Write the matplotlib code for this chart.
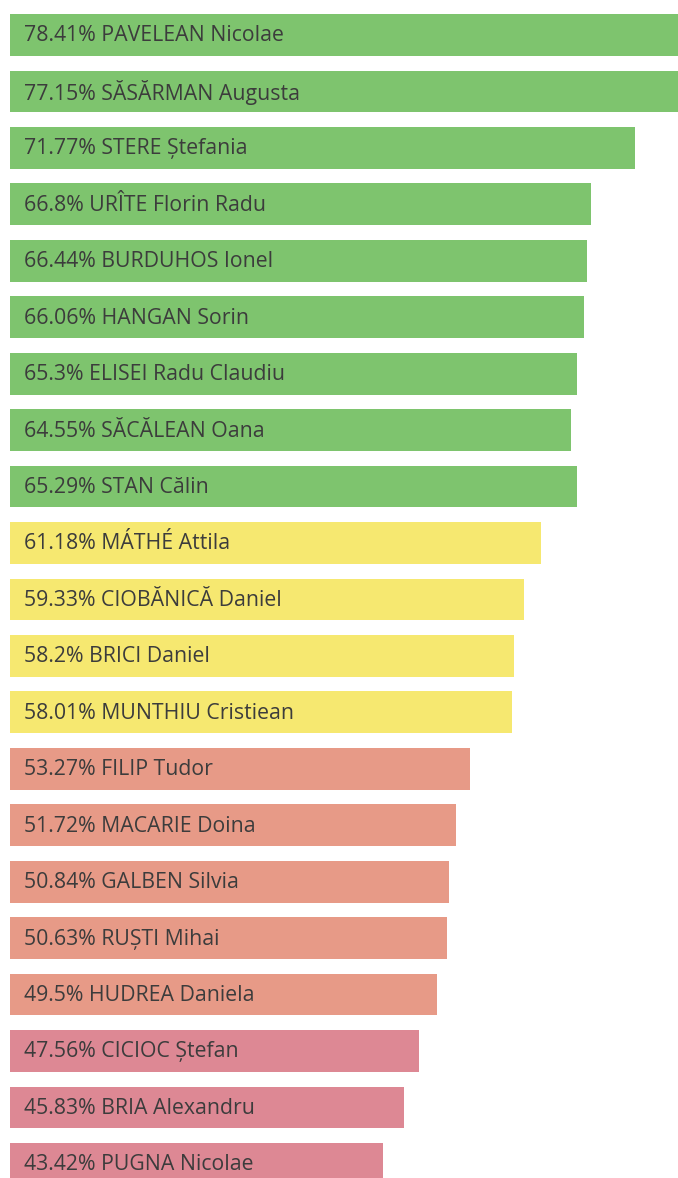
import numpy as np
import matplotlib.pyplot as plt

names = ["PAVELEAN Nicolae", "SĂSĂRMAN Augusta", "STERE Ștefania",
         "URÎTE Florin Radu", "BURDUHOS Ionel", "HANGAN Sorin",
         "ELISEI Radu Claudiu", "SĂCĂLEAN Oana", "STAN Călin",
         "MÁTHÉ Attila", "CIOBĂNICĂ Daniel", "BRICI Daniel",
         "MUNTHIU Cristiean", "FILIP Tudor", "MACARIE Doina",
         "GALBEN Silvia", "RUȘTI Mihai", "HUDREA Daniela",
         "CICIOC Ștefan", "BRIA Alexandru", "PUGNA Nicolae"]
labels = ["78.41", "77.15", "71.77", "66.8", "66.44", "66.06", "65.3",
          "64.55", "65.29", "61.18", "59.33", "58.2", "58.01", "53.27",
          "51.72", "50.84", "50.63", "49.5", "47.56", "45.83", "43.42"]
values = [float(v) for v in labels]


def bar_color(v):
    if v >= 62:
        return "#7ec46e"
    if v >= 55:
        return "#f6e870"
    if v >= 48.5:
        return "#e79a87"
    return "#dd8894"


fig = plt.figure(figsize=(6.78, 11.78), dpi=100)
ax = fig.add_axes([10 / 678, 0, 668 / 678, 1])

y = np.arange(len(values))
ax.barh(y, values, height=0.74, color=[bar_color(v) for v in values], left=0)

# labels sit inside the bar, a fixed offset from its left edge
trans = ax.get_yaxis_transform()
for i, (lab, name) in enumerate(zip(labels, names)):
    ax.annotate(f"{lab}% {name}", xy=(0, i), xycoords=trans, xytext=(14, -1),
                textcoords="offset pixels", va="center", ha="left",
                fontsize=15.3, color="#3c3c3c", family=["Open Sans", "DejaVu Sans"])

ax.set_xlim(1.5, 1.5 + 668 / 8.89)
ax.set_ylim(20.25, -0.62)
ax.axis("off")

fig.savefig("out.png", dpi=100)
